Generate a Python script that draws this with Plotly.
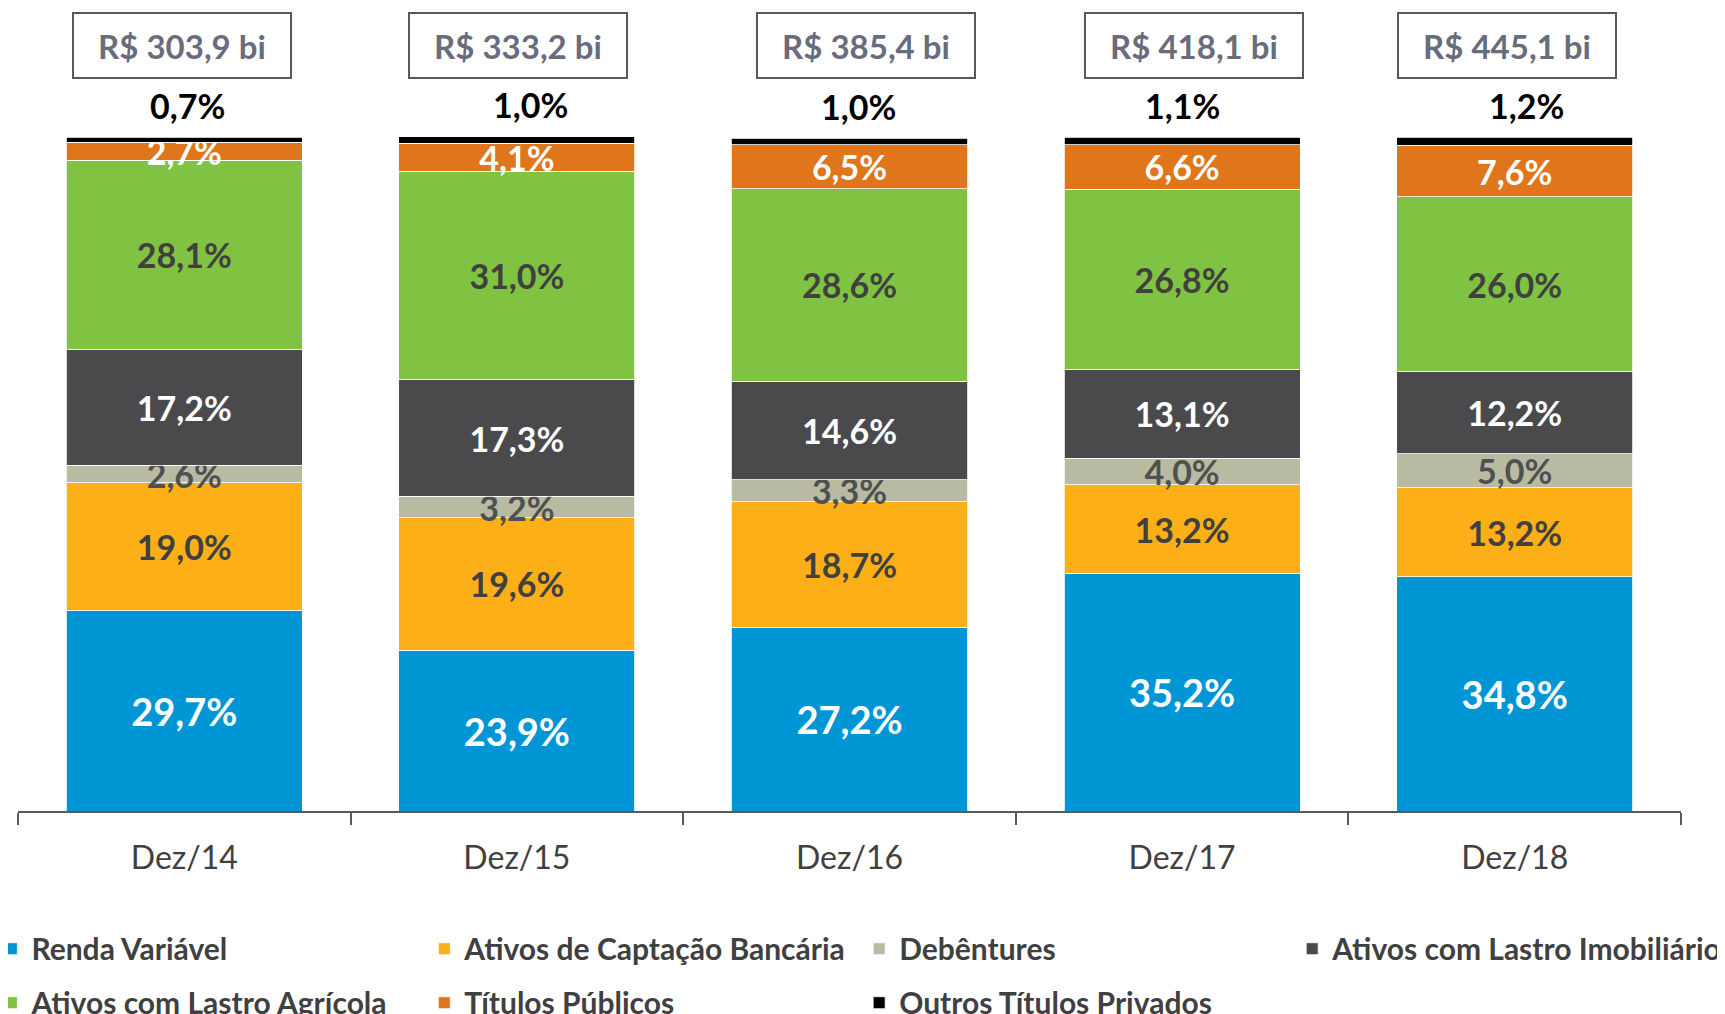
import plotly.graph_objects as go

CATEGORIES = ["Dez/14", "Dez/15", "Dez/16", "Dez/17", "Dez/18"]
TOTALS = ["R$ 303,9 bi", "R$ 333,2 bi", "R$ 385,4 bi", "R$ 418,1 bi", "R$ 445,1 bi"]

RENDA_VARIAVEL = [29.7, 23.9, 27.2, 35.2, 34.8]
CAPTACAO_BANCARIA = [19.0, 19.6, 18.7, 13.2, 13.2]
DEBENTURES = [2.6, 3.2, 3.3, 4.0, 5.0]
LASTRO_IMOBILIARIO = [17.2, 17.3, 14.6, 13.1, 12.2]
LASTRO_AGRICOLA = [28.1, 31.0, 28.6, 26.8, 26.0]
TITULOS_PUBLICOS = [2.7, 4.1, 6.5, 6.6, 7.6]
OUTROS_PRIVADOS = [0.7, 1.0, 1.0, 1.1, 1.2]

FONT = "Lato, 'Open Sans', sans-serif"
INK = "#404040"
AXIS = "#595959"
BOX_INK = "#686c7c"

# (name, values, color, label color, label size, legend column)
SERIES = [
    ("Renda Variável", RENDA_VARIAVEL, "#0096d6", "white", 38, "legend"),
    ("Ativos de Captação Bancária", CAPTACAO_BANCARIA, "#fdaf17", INK, 34, "legend2"),
    ("Debêntures", DEBENTURES, "#b8bba1", "#505050", 34, "legend3"),
    ("Ativos com Lastro Imobiliário", LASTRO_IMOBILIARIO, "#4a4a4d", "white", 34, "legend4"),
    ("Ativos com Lastro Agrícola", LASTRO_AGRICOLA, "#80c342", INK, 34, "legend"),
    ("Títulos Públicos", TITULOS_PUBLICOS, "#df761b", "white", 34, "legend2"),
    ("Outros Títulos Privados", OUTROS_PRIVADOS, "#000000", "black", 34, "legend3"),
]


def fmt(v):
    return f"{v:.1f}%".replace(".", ",")


fig = go.Figure()
for name, vals, color, txt_color, txt_size, leg in SERIES:
    inside = name != "Outros Títulos Privados"
    fig.add_trace(go.Bar(
        name=name, x=CATEGORIES, y=vals, marker_color=color,
        marker_line=dict(color="white", width=0.8),
        text=[fmt(v) for v in vals] if inside else None,
        textposition="inside" if inside else "none",
        insidetextanchor="middle", textangle=0, constraintext="none",
        textfont=dict(family=FONT, size=txt_size, color=txt_color, weight="bold"),
        legend=leg, legendgroup=name,
        hovertemplate=f"{name}<br>%{{x}}: %{{y:.1f}}%<extra></extra>",
    ))

stack_tops = [sum(s[1][i] for s in SERIES) for i in range(len(CATEGORIES))]
pct_shift = [3, 14, 9, 0, 12]
box_shift = [-2, 1, 16, 12, -8]

annotations = []
for i, cat in enumerate(CATEGORIES):
    annotations.append(dict(
        x=cat, y=stack_tops[i], xref="x", yref="y", yanchor="middle",
        yshift=32, xshift=pct_shift[i], showarrow=False, text=fmt(OUTROS_PRIVADOS[i]),
        font=dict(family=FONT, size=34, color="black", weight="bold"),
    ))
    annotations.append(dict(
        x=cat, y=1.1345, xref="x", yref="paper", yanchor="middle",
        xshift=box_shift[i], showarrow=False, text=TOTALS[i],
        width=212, height=59, borderpad=2, borderwidth=2, bordercolor=AXIS,
        font=dict(family=FONT, size=33, color=BOX_INK, weight="bold"),
    ))


def legend_column(x):
    return dict(
        orientation="v", xanchor="left", yanchor="top", x=x, y=-0.1655,
        traceorder="grouped", tracegroupgap=12,
        font=dict(family=FONT, size=30, color=INK, weight="bold"),
        bgcolor="rgba(0,0,0,0)",
    )


# the page adds an 8px body margin, so the figure is 8px smaller than the window
fig.update_layout(
    width=1717, height=1006,
    barmode="stack", bargap=0.29,
    paper_bgcolor="white", plot_bgcolor="white",
    margin=dict(l=9.6, r=44, t=128, b=203, autoexpand=False),
    font=dict(family=FONT, color=INK),
    xaxis=dict(
        showline=True, linecolor=AXIS, linewidth=1.5,
        ticks="outside", tickson="boundaries", ticklen=12, tickcolor=AXIS, tickwidth=1.5,
        tickfont=dict(family=FONT, size=32, color=INK), ticklabelstandoff=18,
        showgrid=False, range=[-0.5, 4.5],
    ),
    yaxis=dict(visible=False, range=[0, 100.2]),
    legend=legend_column(-0.016),
    legend2=legend_column(0.2443),
    legend3=legend_column(0.5058),
    legend4=legend_column(0.7662),
    annotations=annotations,
    showlegend=True,
)

fig.write_html("out.html")
